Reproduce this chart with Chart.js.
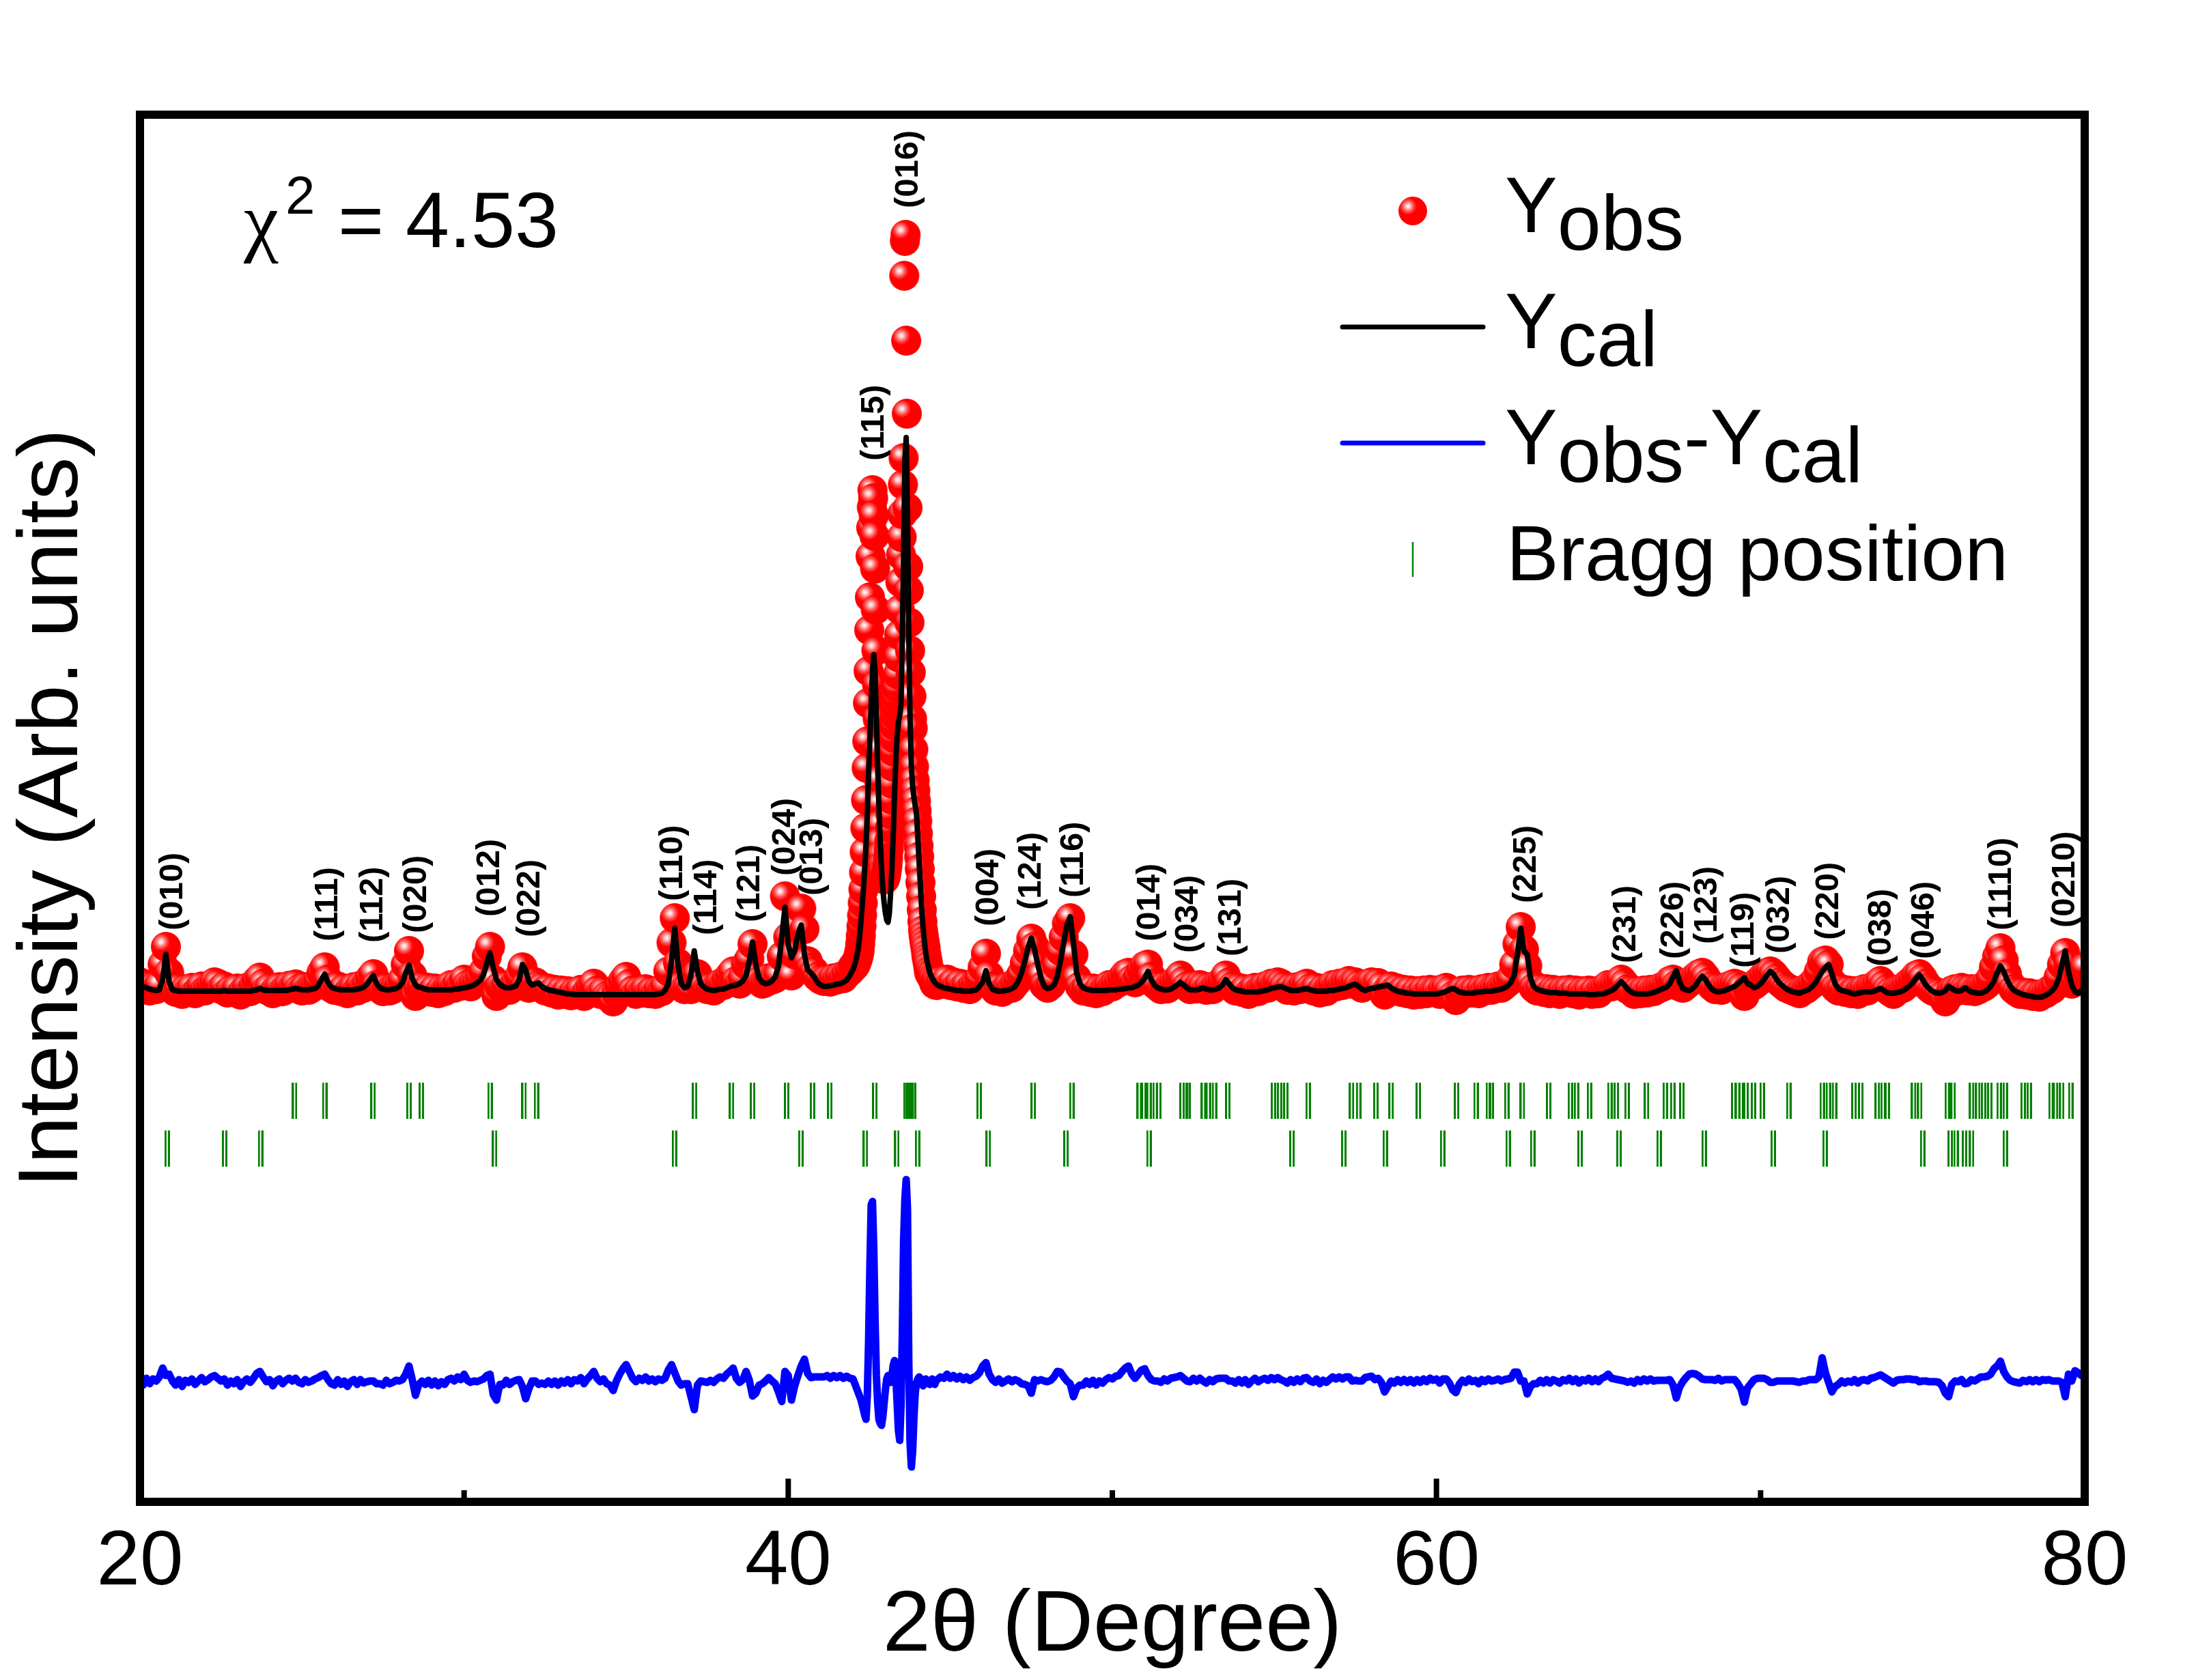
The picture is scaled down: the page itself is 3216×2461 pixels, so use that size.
<!DOCTYPE html>
<html>
<head>
<meta charset="utf-8">
<script src="https://cdn.jsdelivr.net/npm/chart.js@4.4.1/dist/chart.umd.min.js"></script>
<style>html,body{margin:0;padding:0;background:#fff;}canvas{display:block;}</style>
</head>
<body>
<canvas id="c" width="3216" height="2461"></canvas>
<script>
// ---------------- DATA (intensity in arbitrary units, 2θ in degrees) ----------------
// Segment A: 20.0 – 41.9 deg, step 0.1
const segAStart = 20.0, segStep = 0.1;
// Fine segment around the main reflections: starts at 42.00 deg
const fineStart = 42.0, fineStep = 0.04, obsFineStep = 0.02;
// Segment C: 44.7 – 80.0 deg, step 0.1
const segCStart = 44.7;

const calcA = [
10,8,6,4,3,2,3,18,55,15,
3,2,1,1,1,1,1,1,1,1,
1,1,1,1,1,1,2,1,1,1,
1,1,1,1,1,2,3,5,3,2,
2,2,2,2,2,2,3,4,5,4,
3,3,3,4,5,9,18,26,14,7,
5,4,3,3,3,3,3,4,5,7,
11,18,24,12,6,4,3,3,4,5,
8,14,28,39,20,10,7,6,4,3,
3,3,3,3,3,3,3,4,4,5,
6,7,8,10,13,17,25,42,57,35,
18,11,8,6,6,7,9,18,40,32,
15,10,12,13,8,5,3,2,1,0,
-1,-2,-3,-3,-4,-4,-4,-4,-4,-4,
-4,-4,-4,-4,-4,-4,-4,-4,-4,-4,
-4,-4,-4,-4,-4,-4,-4,-4,-4,-4,
-3,-2,2,12,45,93,40,12,6,8,
25,60,30,12,7,4,3,2,3,4,
4,6,8,9,10,12,16,24,45,73,
40,20,14,12,13,16,22,38,80,124,
70,50,60,85,98,55,32,28,22,14,
10,8,8,9,10,11,12,14,17,24];

const obsA = [
14,6,10,2,7,4,10,40,66,28,
6,0,5,-3,4,1,6,-2,3,8,
2,5,9,14,12,4,8,-1,3,0,
5,-4,2,6,1,8,16,21,12,3,
6,-2,4,7,1,5,9,6,11,4,
2,7,3,6,10,16,28,36,18,6,
3,8,1,5,-2,4,7,2,9,6,
12,20,26,10,5,1,6,2,4,8,
10,18,40,60,24,-6,5,8,2,6,
0,5,-2,4,1,7,10,6,12,9,
18,10,8,12,14,20,30,52,66,18,
-6,8,4,9,3,8,12,22,36,8,
6,12,14,10,7,2,5,-1,3,-4,
2,-3,1,-5,0,-2,3,-6,1,6,
12,2,-3,1,-6,-8,-14,-2,8,16,
22,12,2,-3,2,-1,4,-2,1,-3,
2,1,8,30,72,108,42,8,4,6,
4,20,26,14,8,4,6,2,8,12,
10,18,24,30,16,12,20,40,48,70,
22,16,12,14,20,18,20,24,52,140,
80,24,55,95,122,92,45,35,30,22,
18,16,18,15,20,18,22,20,26,30];

const diffA = [
4,-4,6,-2,5,2,8,21,10,12,
2,-4,4,-6,3,0,5,-3,2,7,
1,4,8,10,6,2,5,-4,2,-2,
4,-6,1,5,0,6,13,16,8,1,
4,-5,2,5,-2,3,6,2,6,0,
-2,4,0,2,5,7,10,12,4,-2,
-4,4,-3,2,-6,1,4,-3,4,-1,
1,2,2,-2,-2,-4,3,-2,0,3,
2,4,12,24,4,-19,-3,2,-3,3,
-4,2,-5,1,-3,4,6,2,8,4,
12,3,0,2,1,3,5,10,12,-18,
-26,-3,-4,3,-3,1,3,4,-6,-24,
-9,2,2,-3,-1,-3,2,-3,2,-4,
2,-1,4,-2,4,2,7,-2,5,10,
16,6,1,5,-2,-4,-12,2,12,20,
26,16,6,1,6,3,8,2,5,1,
5,3,6,18,26,14,2,-4,-2,-2,
-21,-40,-4,2,1,0,3,0,5,8,
6,12,16,21,6,0,4,16,3,-20,
-16,-4,-2,2,7,2,-2,-14,-28,16,
10,-26,-5,10,24,34,13,7,8,8,
8,8,10,6,10,7,10,6,9,6];

// 42.00 – 44.60 deg, step 0.04
const calcFine = [
33,38,45,53,63,80,100,125,150,180,
215,260,320,370,420,470,494,470,400,330,
270,220,180,150,130,115,105,102,115,145,
180,230,290,340,375,395,405,420,520,640,
780,812,700,520,400,330,300,285,272,260,
225,190,155,120,95,75,58,46,38,30,
24,20,17,14,12,10];

// 42.00 – 44.60 deg, step 0.02
const obsFine = [
38,36,38,41,40,43,45,48,51,55,
60,70,82,96,112,130,150,175,205,240,
281,328,367,423,470,530,578,638,680,710,
735,723,698,668,620,560,500,450,400,355,
310,275,245,220,200,185,175,168,165,165,
168,172,178,185,195,208,222,240,260,282,
305,330,352,372,390,405,418,430,445,465,
490,523,560,600,640,666,700,743,782,1049,
1100,1109,954,847,709,623,588,541,500,468,
433,400,386,355,330,310,295,280,265,250,
232,214,198,180,160,140,120,103,90,82,
75,69,63,55,49,44,38,31,27,30,
26,22,25,20,17,13,11,15,14,10,
14];

// 42.00 – 44.60 deg, step 0.04
const diffFine = [
5,0,-5,-10,-15,-20,-25,-32,-40,-48,
-54,-20,60,170,260,265,196,90,10,-30,
-55,-60,-63,-50,-30,-10,5,10,5,0,
10,25,32,10,-30,-70,-85,-34,68,207,
269,297,254,30,-90,-124,-100,-50,-15,0,
5,8,5,0,-5,0,5,3,0,-3,
2,5,0,-3,2,4];

const calcC = [
8,6,5,
4,3,2,2,1,1,1,2,3,8,
14,31,12,4,2,1,1,2,3,5,
8,16,28,45,65,79,62,40,20,8,
5,6,10,22,45,72,98,110,72,28,
12,6,4,3,2,2,2,2,2,3,
3,3,4,4,5,6,6,8,10,14,
20,30,18,10,6,4,3,3,4,7,
10,14,10,6,3,3,3,4,6,4,
3,3,4,6,10,18,12,6,3,2,
1,0,0,0,0,0,1,2,3,5,
6,7,8,6,4,2,2,2,3,4,
5,3,2,1,1,1,1,2,2,3,
4,5,6,8,10,11,8,4,2,4,
5,6,7,8,9,10,6,3,1,0,
-1,-2,-2,-3,-3,-3,-3,-3,-3,-3,
-3,-2,-1,1,3,5,3,0,-1,-2,
-2,-2,-1,0,0,1,1,1,2,3,
4,6,9,14,25,55,93,60,55,20,
8,4,2,1,0,-1,-1,-1,-2,-2,
-2,-3,-3,-3,-3,-3,-3,-4,-4,-4,
-3,-3,-2,0,2,5,10,15,10,4,
0,-2,-3,-3,-3,-3,-2,-1,1,3,
5,7,12,22,31,15,5,3,2,5,
10,17,23,18,10,4,1,0,1,2,
4,6,8,12,16,21,12,10,6,8,
12,18,24,30,26,18,12,8,4,2,
0,-1,-2,0,2,4,8,14,22,30,
36,40,26,12,5,2,1,0,-2,-3,
-2,-1,0,0,0,1,3,5,2,-1,
-2,-2,-1,0,2,5,9,14,20,25,
18,10,5,1,-1,-2,-1,2,8,5,
2,1,2,6,3,0,-1,-2,-2,0,
3,8,16,28,38,30,18,9,3,0,
-2,-4,-5,-6,-7,-8,-8,-7,-5,-2,
2,8,20,40,60,30,10,0,-2,2,
6];

const obsC = [
16,12,18,
10,14,8,12,6,10,4,9,12,20,
36,56,24,8,2,6,0,4,8,6,
12,18,26,42,60,78,66,42,24,10,
6,10,18,38,60,80,100,108,55,20,
8,2,6,0,5,-2,4,1,6,10,
8,12,14,20,26,28,18,14,22,32,
38,40,22,12,8,4,8,5,10,14,
18,24,16,8,4,9,5,10,8,3,
7,4,9,12,16,24,14,8,2,6,
0,4,-3,2,6,1,5,8,6,12,
10,14,12,8,3,6,2,7,4,10,
12,5,2,6,-1,4,1,6,10,8,
12,10,14,16,12,14,10,6,9,12,
14,10,13,8,-4,4,8,2,5,0,
3,-2,2,-4,1,-3,2,-2,3,0,
2,-3,4,6,2,-6,-12,-3,2,-2,
3,-1,2,-2,4,2,6,3,5,8,
6,10,14,20,40,70,95,62,38,14,
6,2,5,0,4,-2,3,1,-3,2,
0,3,-2,2,-4,1,-1,2,-3,1,
-2,3,6,10,8,10,14,18,12,4,
2,-3,1,-2,2,-1,3,1,4,6,
8,10,16,18,10,8,6,10,14,18,
22,26,28,22,14,8,4,6,3,6,
8,10,12,10,6,-6,4,8,10,14,
18,24,28,30,26,20,14,10,6,4,
2,0,-2,2,4,8,12,18,30,44,
46,40,14,6,2,4,0,2,-2,1,
-3,2,4,2,6,8,12,16,10,4,
0,-3,2,4,6,10,14,18,24,26,
20,12,6,2,0,-2,-6,-14,-6,2,
4,2,6,4,2,4,1,3,6,8,
12,20,36,52,64,46,26,12,4,0,
-3,-1,-4,-2,-6,-4,-7,-3,-2,2,
4,10,22,40,57,42,12,17,25,30,
36];

const diffC = [
8,6,12,
6,10,5,9,4,8,3,7,9,14,
24,29,12,4,0,5,-1,2,5,1,
4,2,-2,-3,-5,-16,4,2,4,2,
1,3,8,16,15,8,2,-2,-21,-8,
-4,-4,2,-3,3,-4,2,-1,4,7,
5,9,10,16,21,24,12,6,12,18,
20,10,4,2,2,0,5,2,6,7,
8,10,6,2,1,6,2,6,2,-1,
4,1,5,6,6,6,2,2,-1,4,
-1,4,-3,2,6,1,4,6,3,7,
4,7,4,2,-1,4,0,5,1,6,
7,2,0,5,-2,3,0,4,8,5,
8,5,8,8,2,3,2,2,7,8,
9,4,6,0,-14,-6,2,-1,4,0,
4,0,4,-1,4,0,5,1,6,3,
5,-1,5,5,-1,-11,-15,-3,3,0,
5,1,3,-2,4,1,5,2,3,5,
2,4,5,6,15,15,2,2,-17,-6,
-2,-2,3,-1,4,-1,4,2,-1,4,
2,6,1,5,-1,4,2,6,1,5,
1,6,8,12,6,5,4,3,2,0,
2,-1,4,1,5,2,5,2,3,3,
3,3,4,-4,-23,-7,1,7,12,13,
12,9,5,4,4,4,3,6,2,4,
4,4,4,-2,-10,-29,-8,-2,4,6,
6,6,4,0,0,2,2,2,2,2,
2,1,0,2,2,4,4,4,8,36,
14,0,-14,-6,-3,2,-1,2,0,4,
-1,3,4,2,6,7,9,11,8,5,
2,-1,3,4,4,5,5,4,4,1,
2,2,1,1,1,0,-5,-16,-21,-3,
2,1,4,-2,-1,4,2,5,8,8,
9,12,20,24,31,16,8,3,1,0,
-1,3,1,4,1,4,1,4,3,4,
2,2,2,0,-21,12,2,17,14,10,
12];

// difference curve is displayed shifted below the pattern
const diffOffset = -572;

// Bragg reflection positions (2θ) – two phases
const braggRow1 = [24.77,25.70,27.19,28.30,28.68,30.80,31.85,32.23,37.11,38.25,38.90,39.95,40.75,41.28,42.67,
43.63,43.70,43.78,43.86,45.89,47.56,48.75,50.83,50.97,51.13,51.32,51.43,52.15,52.25,52.33,52.81,52.96,53.15,
53.56,54.97,55.16,55.35,56.04,57.38,57.60,58.13,58.60,59.44,60.62,61.22,61.60,61.69,62.17,62.65,63.46,64.13,
64.32,64.72,65.35,65.55,65.88,66.48,67.06,67.29,67.57,69.17,69.29,69.40,69.55,69.78,70.05,70.87,71.90,72.09,
72.28,72.88,73.09,73.60,73.78,73.91,74.72,74.91,75.76,75.94,76.51,76.70,76.88,77.07,77.36,77.55,78.10,78.29,
78.96,79.10,79.29,79.57];
const braggRow2 = [20.84,22.61,23.72,30.94,36.49,40.39,42.38,43.35,43.99,46.17,48.57,51.13,55.54,57.14,58.42,
60.19,62.21,62.97,64.43,65.63,66.87,68.26,70.39,71.99,75.00,75.85,76.03,76.29,76.51,77.55];
const braggLevel1 = -159, braggLevel2 = -229;

// Miller indices labels: text, 2θ, intensity level where label starts
const hklText = ['(010)','(111)','(112)','(020)','(012)','(022)','(110)','(114)','(121)','(024)','(013)','(115)','(016)',
'(004)','(124)','(116)','(014)','(034)','(131)','(225)','(231)','(226)','(123)','(119)','(032)','(220)','(038)','(046)','(1110)','(0210)'];
const hklPos = [21.03,25.81,27.20,28.55,30.79,32.04,36.45,37.50,38.83,39.92,40.76,42.65,43.71,
46.20,47.51,48.80,51.16,52.35,53.68,62.78,65.85,67.33,68.37,69.50,70.60,72.12,73.74,75.05,77.45,79.39];
const hklLevel = [90,74,72,86,110,80,133,83,102,170,141,778,1148,
96,120,138,74,57,52,130,42,48,70,35,56,76,37,48,90,94];

const yMin = -747, yMax = 1285;
const xTickValues = [20, 40, 60, 80];

// ---------------- BUILD ----------------
function build(a, f, fStep, c, off) {
  const pts = [];
  a.forEach((v, i) => pts.push({x: +(segAStart + i * segStep).toFixed(2), y: v + off}));
  f.forEach((v, i) => pts.push({x: +(fineStart + i * fStep).toFixed(2), y: v + off}));
  c.forEach((v, i) => pts.push({x: +(segCStart + i * segStep).toFixed(2), y: v + off}));
  return pts;
}
const calcPts = build(calcA, calcFine, fineStep, calcC, 0);
const obsPts = build(obsA, obsFine, obsFineStep, obsC, 0);
const diffPts = build(diffA, diffFine, fineStep, diffC, diffOffset);
const bragg1Pts = braggRow1.map(x => ({x, y: braggLevel1}));
const bragg2Pts = braggRow2.map(x => ({x, y: braggLevel2}));

// sphere-like marker for observed points
function makeSphere(r) {
  const s = 2 * r + 2;
  const c = document.createElement('canvas'); c.width = s; c.height = s;
  const g = c.getContext('2d');
  const hx = s / 2 - r * 0.33, hy = s / 2 - r * 0.33;
  const grad = g.createRadialGradient(hx, hy, 0, hx, hy, r * 0.6);
  grad.addColorStop(0, '#ffffff');
  grad.addColorStop(0.25, '#ffc8c8');
  grad.addColorStop(0.6, '#ff5a5a');
  grad.addColorStop(1, '#ff0000');
  g.fillStyle = grad;
  g.beginPath(); g.arc(s / 2, s / 2, r, 0, Math.PI * 2); g.fill();
  return c;
}
const sphere = makeSphere(22);
const legendSphere = makeSphere(21);
// Bragg tick marker (doublet)
const braggMark = (() => {
  const c = document.createElement('canvas'); c.width = 8; c.height = 53;
  const g = c.getContext('2d');
  g.fillStyle = '#008000';
  g.fillRect(0, 0, 3, 53); g.fillRect(5, 0, 3, 53);
  return c;
})();

Chart.defaults.font.family = "'Liberation Sans', Arial, sans-serif";
Chart.defaults.color = '#000';

const overlay = {
  id: 'overlay',
  afterDatasetsDraw(chart) {
    const {ctx, chartArea: a} = chart;
    const xs = chart.scales.x;
    ctx.save();
    ctx.strokeStyle = '#000';
    ctx.lineWidth = 8;
    xs.ticks.forEach(t => {
      const px = xs.getPixelForValue(t.value);
      const len = xTickValues.includes(t.value) ? 34 : 17;
      ctx.beginPath(); ctx.moveTo(px, a.bottom); ctx.lineTo(px, a.bottom - len); ctx.stroke();
    });
    ctx.lineWidth = 12; ctx.lineJoin = 'miter';
    ctx.strokeRect(a.left, a.top, a.right - a.left, a.bottom - a.top);
    ctx.restore();
  },
  afterDraw(chart) {
    const {ctx} = chart;
    const xs = chart.scales.x, ys = chart.scales.y;
    ctx.save();
    // hkl labels
    ctx.fillStyle = '#000';
    ctx.font = "bold 49px 'Liberation Sans'";
    ctx.textAlign = 'left'; ctx.textBaseline = 'middle';
    hklText.forEach((t, i) => {
      ctx.save();
      ctx.translate(xs.getPixelForValue(hklPos[i]), ys.getPixelForValue(hklLevel[i]));
      ctx.rotate(-Math.PI / 2);
      ctx.fillText(t, 0, 0);
      ctx.restore();
    });
    // chi-square
    ctx.textBaseline = 'alphabetic';
    ctx.font = "115px 'Liberation Serif'";
    ctx.fillText('χ', 357, 362);
    ctx.font = "78px 'Liberation Sans'";
    ctx.fillText('2', 418, 313);
    ctx.font = "115px 'Liberation Sans'";
    ctx.fillText('= 4.53', 495, 362);
    // legend
    ctx.font = "115px 'Liberation Sans'";
    const sub = 26;
    function yText(parts, x, base) {
      let cx = x;
      parts.forEach(([txt, isSub]) => {
        ctx.fillText(txt, cx, base + (isSub ? sub : 0));
        cx += ctx.measureText(txt).width;
      });
    }
    ctx.drawImage(legendSphere, 2069 - legendSphere.width / 2, 309 - legendSphere.height / 2);
    yText([['Y', false], ['obs', true]], 2204, 340);
    ctx.lineCap = 'round';
    ctx.lineWidth = 7;
    ctx.strokeStyle = '#000';
    ctx.beginPath(); ctx.moveTo(1966, 479); ctx.lineTo(2172, 479); ctx.stroke();
    yText([['Y', false], ['cal', true]], 2204, 510);
    ctx.strokeStyle = '#0000ff';
    ctx.beginPath(); ctx.moveTo(1966, 649); ctx.lineTo(2172, 649); ctx.stroke();
    yText([['Y', false], ['obs', true], ['-', false], ['Y', false], ['cal', true]], 2204, 680);
    ctx.strokeStyle = '#008000'; ctx.lineWidth = 2.5; ctx.lineCap = 'butt';
    ctx.beginPath(); ctx.moveTo(2069, 794); ctx.lineTo(2069, 845); ctx.stroke();
    ctx.fillText('Bragg position', 2206, 850);
    ctx.restore();
  }
};

new Chart(document.getElementById('c'), {
  type: 'scatter',
  data: {
    datasets: [
      {label: 'Ycal', data: calcPts, showLine: true, borderColor: '#000000', borderWidth: 8,
       pointRadius: 0, order: 0, clip: 0, borderJoinStyle: 'round', borderCapStyle: 'round', tension: 0},
      {label: 'Yobs', data: obsPts, showLine: false, pointStyle: sphere, pointRadius: 22,
       backgroundColor: '#ff0000', borderColor: '#ff0000', order: 1, clip: 0},
      {label: 'Yobs-Ycal', data: diffPts, showLine: true, borderColor: '#0000ff', borderWidth: 11,
       pointRadius: 0, order: 2, clip: 0, borderJoinStyle: 'round', tension: 0},
      {label: 'Bragg position', data: bragg1Pts, showLine: false, pointStyle: braggMark, pointRadius: 26, order: 3},
      {label: 'Bragg position (2)', data: bragg2Pts, showLine: false, pointStyle: braggMark, pointRadius: 26, order: 4}
    ]
  },
  options: {
    responsive: false, animation: false, devicePixelRatio: 1, events: [],
    layout: {padding: {left: 0, top: 168, right: 163, bottom: 0}},
    plugins: {legend: {display: false}, tooltip: {enabled: false}},
    scales: {
      x: {
        type: 'linear', position: 'bottom', min: 20, max: 80,
        afterFit: s => { s.height = 261; },
        grid: {display: false, drawTicks: false}, border: {display: false},
        ticks: {stepSize: 10, autoSkip: false, maxRotation: 0, minRotation: 0, padding: 21, color: '#000',
                font: {size: 114}, callback: v => (xTickValues.includes(v) ? String(v) : '')},
        title: {display: true, text: '2θ (Degree)', color: '#000', font: {size: 126}, padding: {top: 0, bottom: 2}}
      },
      y: {
        type: 'linear', position: 'left', min: yMin, max: yMax,
        afterFit: s => { s.width = 205; },
        grid: {display: false, drawTicks: false}, border: {display: false},
        ticks: {display: false},
        title: {display: true, text: 'Intensity (Arb. units)', color: '#000', font: {size: 125}, padding: {top: 4, bottom: 0}}
      }
    }
  },
  plugins: [overlay]
});
</script>
</body>
</html>
